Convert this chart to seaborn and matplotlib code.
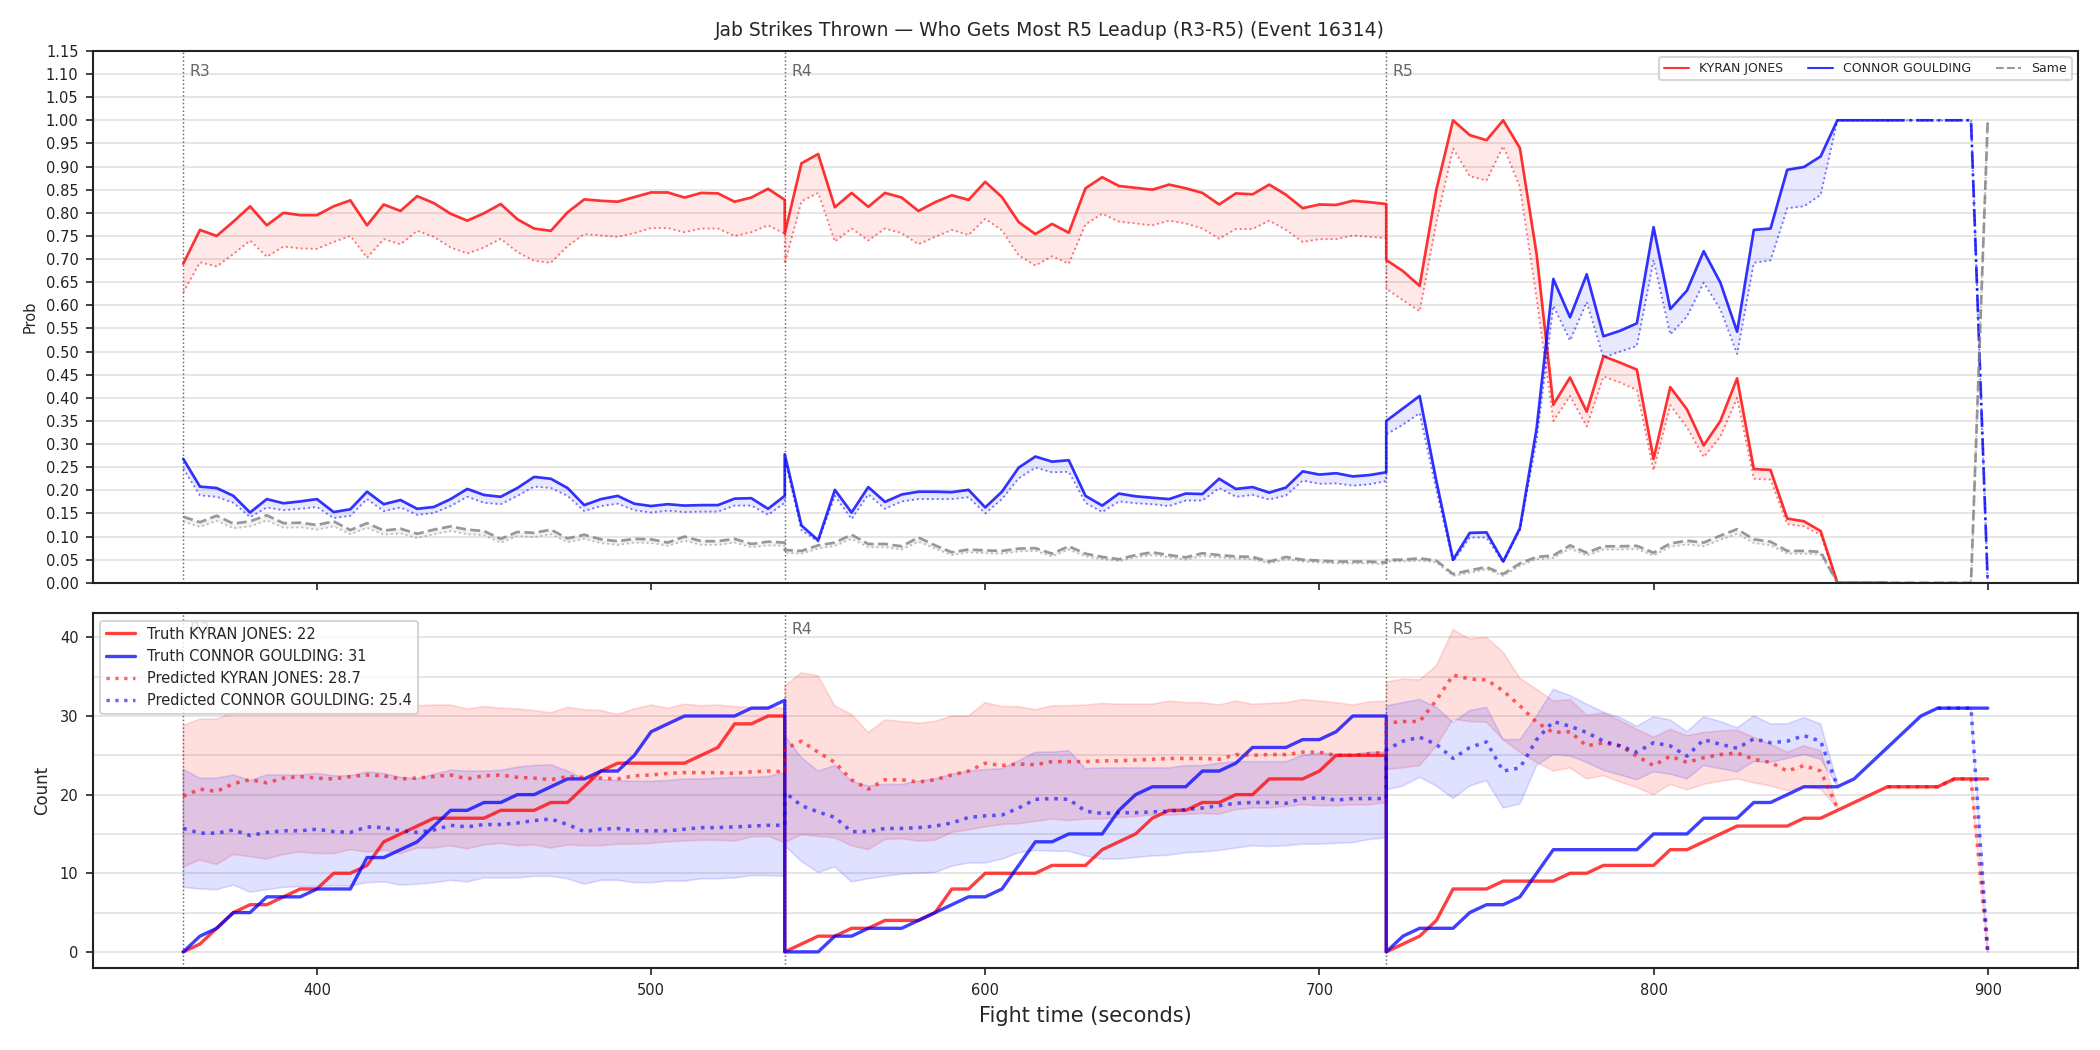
import numpy as np
import pandas as pd
import matplotlib
matplotlib.use("Agg")
import matplotlib.pyplot as plt
import matplotlib.transforms as mtransforms
from matplotlib.lines import Line2D
from matplotlib.ticker import MultipleLocator, FormatStrFormatter
import seaborn as sns

# ---------------- data ----------------
TITLE = "Jab Strikes Thrown \u2014 Who Gets Most R5 Leadup (R3-R5) (Event 16314)"
FIGHTER_A = "KYRAN JONES"
FIGHTER_B = "CONNOR GOULDING"
SAME_LABEL = "Same"
ROUND_LABELS = ["R3", "R4", "R5"]
ROUND_STARTS = [360, 540, 720]
ROUND_LEN = 180
STEP = 5
STYLE_SWITCH_T = 870   # top panel lines change to dash-dot after this time

# Top panel: probability of "who gets most" (solid) and lower line (dotted)
prob_a = [
    0.690, 0.763, 0.750, 0.781, 0.814, 0.773, 0.800, 0.795, 0.795, 0.814, 0.827, 0.773, 0.818, 0.804, 0.836, 0.821, 0.798, 0.783, 0.799,
    0.819, 0.786, 0.766, 0.761, 0.801, 0.829, 0.826, 0.824, 0.834, 0.844, 0.844, 0.833, 0.843, 0.842, 0.824, 0.833, 0.852, 0.828,
    0.755, 0.907, 0.927, 0.812, 0.843, 0.813, 0.843, 0.833, 0.804, 0.823, 0.838, 0.828, 0.867, 0.834, 0.780, 0.754, 0.776, 0.757, 0.853,
    0.877, 0.858, 0.854, 0.850, 0.861, 0.853, 0.843, 0.818, 0.842, 0.840, 0.861, 0.839, 0.810, 0.818, 0.817, 0.826, 0.823, 0.819,
    0.698, 0.674, 0.642, 0.850, 1.000, 0.968, 0.957, 1.000, 0.940, 0.711, 0.385, 0.444, 0.370, 0.490, 0.476, 0.461, 0.268, 0.423, 0.375,
    0.297, 0.350, 0.442, 0.246, 0.244, 0.139, 0.133, 0.112, 0.0, 0.0, 0.0, 0.0, 0.0, 0.0, 0.0, 0.0, 0.0, 0.0,
]
prob_a_lo = [
    0.628, 0.693, 0.684, 0.711, 0.740, 0.705, 0.727, 0.723, 0.722, 0.737, 0.750, 0.703, 0.743, 0.732, 0.761, 0.748, 0.725, 0.712, 0.725,
    0.744, 0.715, 0.696, 0.692, 0.728, 0.754, 0.751, 0.748, 0.756, 0.767, 0.767, 0.758, 0.766, 0.766, 0.750, 0.758, 0.773, 0.755,
    0.690, 0.825, 0.843, 0.738, 0.766, 0.740, 0.766, 0.756, 0.732, 0.748, 0.763, 0.752, 0.787, 0.762, 0.708, 0.686, 0.706, 0.690, 0.775,
    0.798, 0.781, 0.777, 0.773, 0.783, 0.777, 0.766, 0.744, 0.765, 0.765, 0.783, 0.763, 0.737, 0.743, 0.743, 0.751, 0.748, 0.745,
    0.636, 0.611, 0.587, 0.780, 0.939, 0.879, 0.870, 0.944, 0.856, 0.616, 0.350, 0.404, 0.338, 0.446, 0.433, 0.417, 0.243, 0.384, 0.336,
    0.272, 0.316, 0.400, 0.225, 0.223, 0.127, 0.122, 0.104, 0.0, 0.0, 0.0, 0.0, 0.0, 0.0, 0.0, 0.0, 0.0, 0.0,
]
prob_b = [
    0.268, 0.208, 0.205, 0.188, 0.152, 0.181, 0.172, 0.176, 0.181, 0.153, 0.159, 0.197, 0.170, 0.179, 0.160, 0.164, 0.181, 0.203, 0.190,
    0.186, 0.205, 0.229, 0.225, 0.205, 0.168, 0.181, 0.188, 0.171, 0.166, 0.170, 0.167, 0.168, 0.168, 0.182, 0.183, 0.160, 0.188,
    0.278, 0.124, 0.092, 0.201, 0.152, 0.207, 0.175, 0.191, 0.197, 0.197, 0.196, 0.201, 0.163, 0.197, 0.249, 0.273, 0.262, 0.265, 0.188,
    0.167, 0.193, 0.187, 0.184, 0.181, 0.193, 0.192, 0.225, 0.203, 0.207, 0.195, 0.206, 0.241, 0.234, 0.237, 0.230, 0.233, 0.239,
    0.350, 0.377, 0.404, 0.220, 0.050, 0.108, 0.109, 0.046, 0.118, 0.334, 0.657, 0.574, 0.667, 0.533, 0.545, 0.561, 0.769, 0.592, 0.632,
    0.717, 0.649, 0.543, 0.763, 0.766, 0.893, 0.899, 0.922, 1.0, 1.0, 1.0, 1.0, 1.0, 1.0, 1.0, 1.0, 1.0, 0.0,
]
prob_b_lo = [
    0.247, 0.189, 0.186, 0.173, 0.142, 0.163, 0.157, 0.160, 0.164, 0.140, 0.145, 0.181, 0.155, 0.163, 0.147, 0.151, 0.166, 0.186, 0.173,
    0.170, 0.188, 0.208, 0.205, 0.188, 0.155, 0.166, 0.171, 0.157, 0.152, 0.156, 0.153, 0.154, 0.154, 0.167, 0.167, 0.147, 0.173,
    0.268, 0.114, 0.089, 0.188, 0.138, 0.191, 0.160, 0.176, 0.181, 0.181, 0.181, 0.185, 0.150, 0.181, 0.226, 0.249, 0.239, 0.240, 0.173,
    0.153, 0.176, 0.172, 0.170, 0.166, 0.178, 0.178, 0.205, 0.186, 0.190, 0.180, 0.189, 0.221, 0.214, 0.215, 0.210, 0.213, 0.220,
    0.321, 0.342, 0.367, 0.200, 0.046, 0.098, 0.098, 0.044, 0.114, 0.309, 0.599, 0.524, 0.607, 0.487, 0.500, 0.512, 0.698, 0.537, 0.576,
    0.649, 0.591, 0.495, 0.692, 0.697, 0.810, 0.814, 0.839, 1.0, 1.0, 1.0, 1.0, 1.0, 1.0, 1.0, 1.0, 1.0, 0.0,
]
prob_same = [
    0.143, 0.131, 0.145, 0.128, 0.133, 0.146, 0.129, 0.130, 0.125, 0.133, 0.114, 0.129, 0.113, 0.117, 0.106, 0.115, 0.122, 0.115, 0.112,
    0.095, 0.110, 0.108, 0.115, 0.096, 0.104, 0.094, 0.090, 0.095, 0.094, 0.087, 0.100, 0.090, 0.090, 0.095, 0.084, 0.089, 0.087,
    0.071, 0.069, 0.081, 0.087, 0.104, 0.084, 0.084, 0.079, 0.098, 0.081, 0.066, 0.072, 0.070, 0.069, 0.074, 0.075, 0.063, 0.079, 0.063,
    0.056, 0.051, 0.060, 0.066, 0.060, 0.055, 0.064, 0.060, 0.057, 0.056, 0.046, 0.056, 0.050, 0.048, 0.046, 0.046, 0.046, 0.044,
    0.050, 0.050, 0.053, 0.048, 0.019, 0.027, 0.034, 0.019, 0.042, 0.056, 0.059, 0.081, 0.065, 0.079, 0.079, 0.080, 0.065, 0.085, 0.091,
    0.087, 0.102, 0.116, 0.094, 0.089, 0.069, 0.069, 0.067, 0.0, 0.0, 0.0, 0.0, 0.0, 0.0, 0.0, 0.0, 0.0, 1.0,
]
prob_same_lo = [
    0.132, 0.121, 0.134, 0.118, 0.122, 0.135, 0.119, 0.120, 0.115, 0.122, 0.105, 0.119, 0.104, 0.107, 0.097, 0.105, 0.112, 0.105, 0.103,
    0.087, 0.101, 0.099, 0.105, 0.088, 0.095, 0.086, 0.082, 0.087, 0.086, 0.080, 0.091, 0.082, 0.082, 0.087, 0.077, 0.081, 0.080,
    0.065, 0.063, 0.074, 0.080, 0.095, 0.077, 0.077, 0.072, 0.089, 0.074, 0.060, 0.066, 0.064, 0.063, 0.068, 0.069, 0.057, 0.072, 0.057,
    0.051, 0.047, 0.055, 0.060, 0.055, 0.050, 0.058, 0.055, 0.052, 0.051, 0.042, 0.051, 0.046, 0.044, 0.042, 0.042, 0.042, 0.040,
    0.046, 0.046, 0.048, 0.044, 0.015, 0.022, 0.029, 0.015, 0.037, 0.051, 0.054, 0.074, 0.059, 0.072, 0.072, 0.073, 0.059, 0.078, 0.083,
    0.079, 0.093, 0.106, 0.086, 0.081, 0.063, 0.063, 0.061, 0.0, 0.0, 0.0, 0.0, 0.0, 0.0, 0.0, 0.0, 0.0, 1.0,
]

# Bottom panel: cumulative counts (truth) and predictions with bands
truth_a = [
    0, 1, 3, 5, 6, 6, 7, 8, 8, 10, 10, 11, 14, 15, 16, 17, 17, 17, 17, 18, 18, 18, 19, 19, 21, 23, 24, 24, 24, 24, 24, 25, 26, 29, 29, 30, 30,
    0, 1, 2, 2, 3, 3, 4, 4, 4, 5, 8, 8, 10, 10, 10, 10, 11, 11, 11, 13, 14, 15, 17, 18, 18, 19, 19, 20, 20, 22, 22, 22, 23, 25, 25, 25, 25,
    0, 1, 2, 4, 8, 8, 8, 9, 9, 9, 9, 10, 10, 11, 11, 11, 11, 13, 13, 14, 15, 16, 16, 16, 16, 17, 17, 18, 19, 20, 21, 21, 21, 21, 22, 22, 22,
]
truth_b = [
    0, 2, 3, 5, 5, 7, 7, 7, 8, 8, 8, 12, 12, 13, 14, 16, 18, 18, 19, 19, 20, 20, 21, 22, 22, 23, 23, 25, 28, 29, 30, 30, 30, 30, 31, 31, 32,
    0, 0, 0, 2, 2, 3, 3, 3, 4, 5, 6, 7, 7, 8, 11, 14, 14, 15, 15, 15, 18, 20, 21, 21, 21, 23, 23, 24, 26, 26, 26, 27, 27, 28, 30, 30, 30,
    0, 2, 3, 3, 3, 5, 6, 6, 7, 10, 13, 13, 13, 13, 13, 13, 15, 15, 15, 17, 17, 17, 19, 19, 20, 21, 21, 21, 22, 24, 26, 28, 30, 31, 31, 31, 31,
]
nan = float("nan")
pred_a = [
    19.8, 20.7, 20.4, 21.4, 21.9, 21.5, 22.1, 22.3, 22.1, 22.0, 22.3, 22.5, 22.4, 22.0, 22.1, 22.3, 22.5, 22.0, 22.4, 22.5, 22.2, 22.1,
    21.9, 22.3, 22.2, 22.1, 22.0, 22.4, 22.5, 22.7, 22.8, 22.8, 22.8, 22.7, 22.9, 23.0, 22.9,
    25.8, 26.8, 25.4, 24.1, 21.9, 20.7, 21.9, 21.9, 21.6, 21.9, 22.5, 23.0, 24.0, 23.7, 23.9, 23.8, 24.2, 24.2, 24.2, 24.3, 24.3, 24.4,
    24.5, 24.6, 24.6, 24.6, 24.5, 25.1, 25.0, 25.1, 25.1, 25.4, 25.4, 25.0, 25.0, 25.2, 25.4,
    29.1, 29.3, 29.3, 32.0, 35.2, 34.7, 34.6, 33.2, 31.3, 29.2, 27.9, 28.0, 26.2, 26.6, 26.2, 24.9, 23.7, 24.9, 24.1, 24.7, 25.1, 25.3,
    24.5, 24.1, 23.0, 23.7, 23.0, 18.3, nan, nan, 21, 21, 21, 21, 22, 22, 0,
]
pred_a_hi = [
    28.8, 29.6, 29.6, 30.4, 30.9, 31.1, 31.2, 31.2, 31.1, 31.2, 31.2, 31.4, 31.2, 31.2, 31.3, 31.4, 31.4, 30.9, 31.2, 31.0, 30.9, 30.7,
    30.4, 31.1, 30.8, 30.7, 30.2, 30.9, 31.4, 31.0, 31.5, 31.3, 31.4, 31.2, 31.1, 31.2, 30.9,
    33.8, 35.5, 35.1, 31.3, 30.2, 27.9, 29.5, 29.3, 29.1, 29.3, 30.0, 30.0, 31.7, 31.2, 31.2, 30.8, 31.3, 31.3, 31.4, 31.6, 31.5, 31.5,
    31.5, 31.9, 31.7, 31.7, 31.4, 31.9, 31.5, 31.6, 31.7, 32.1, 31.9, 31.7, 31.4, 31.8, 31.9,
    34.3, 34.7, 34.6, 36.4, 41.0, 39.8, 40.0, 38.1, 34.8, 33.4, 31.9, 32.1, 30.1, 30.4, 29.4, 28.3, 27.3, 28.3, 27.5, 27.9, 28.1, 28.2,
    27.3, 26.4, 25.4, 26.2, 25.6, 18.6, nan, nan, 21, 21, 21, 21, 22, 22, 0,
]
pred_a_lo = [
    10.8, 11.7, 11.1, 12.4, 12.1, 11.8, 12.4, 12.7, 12.5, 12.5, 13.0, 12.7, 12.9, 12.5, 13.2, 13.2, 13.5, 13.1, 13.6, 13.8, 13.5, 13.6,
    13.2, 13.6, 13.5, 13.5, 13.7, 13.7, 13.8, 14.0, 14.1, 14.2, 14.2, 14.1, 14.6, 14.7, 13.9,
    13.9, 14.9, 14.7, 14.5, 13.5, 13.0, 14.3, 14.4, 14.1, 14.2, 15.2, 15.5, 15.9, 16.2, 16.3, 16.6, 16.9, 16.7, 16.9, 16.9, 17.1, 17.2,
    17.4, 17.4, 17.5, 17.6, 17.5, 18.1, 18.3, 18.3, 18.5, 18.7, 18.6, 18.6, 18.7, 18.7, 19.0,
    23.2, 23.4, 23.7, 26.2, 29.6, 29.3, 29.2, 27.0, 25.4, 24.1, 23.0, 23.4, 22.0, 22.4, 21.6, 20.9, 20.0, 21.3, 20.6, 21.3, 21.7, 22.0,
    21.5, 21.1, 20.5, 21.0, 20.7, 18.3, nan, nan, 21, 21, 21, 21, 22, 22, 0,
]
pred_b = [
    15.7, 15.1, 15.1, 15.5, 14.8, 15.2, 15.4, 15.4, 15.6, 15.3, 15.2, 15.9, 15.8, 15.4, 15.2, 15.5, 16.1, 15.9, 16.2, 16.2, 16.4, 16.7,
    16.9, 16.2, 15.3, 15.6, 15.7, 15.4, 15.4, 15.4, 15.6, 15.8, 15.8, 15.9, 16.0, 16.1, 16.1,
    20.3, 18.6, 17.8, 17.1, 15.3, 15.3, 15.7, 15.7, 15.8, 16.0, 16.4, 17.1, 17.3, 17.4, 18.3, 19.4, 19.5, 19.4, 17.9, 17.6, 17.7, 17.7,
    17.8, 17.9, 18.1, 18.3, 18.6, 18.9, 19.0, 19.0, 18.9, 19.5, 19.6, 19.3, 19.5, 19.5, 19.5,
    25.7, 26.8, 27.3, 26.4, 24.6, 26.0, 26.7, 23.0, 23.4, 27.0, 29.3, 28.7, 27.9, 26.8, 26.2, 25.4, 26.6, 26.2, 24.9, 27.0, 26.4, 25.9,
    27.1, 26.6, 26.8, 27.5, 26.8, 21.1, nan, nan, nan, nan, nan, 31, 31, 31, 0,
]
pred_b_hi = [
    23.2, 22.1, 22.1, 22.5, 21.8, 22.5, 22.5, 22.5, 22.7, 22.4, 22.4, 22.9, 22.7, 22.2, 22.0, 22.6, 23.1, 23.0, 23.0, 23.1, 23.5, 23.7,
    23.8, 23.0, 22.0, 21.9, 21.8, 21.7, 21.7, 21.8, 22.0, 22.0, 22.1, 22.2, 22.2, 22.3, 22.8,
    27.5, 24.7, 23.0, 23.7, 21.7, 21.1, 21.3, 21.3, 21.7, 22.0, 22.6, 23.0, 23.2, 23.3, 24.3, 25.4, 25.4, 25.6, 23.3, 23.4, 23.4, 23.4,
    23.4, 23.4, 23.7, 23.7, 24.0, 24.2, 24.2, 24.2, 24.2, 25.0, 25.3, 25.1, 25.1, 25.4, 25.4,
    31.3, 31.7, 32.1, 31.1, 29.2, 30.7, 31.1, 27.0, 27.0, 30.0, 33.4, 32.6, 31.5, 30.5, 29.8, 28.7, 29.9, 29.5, 28.0, 29.9, 29.3, 28.5,
    30.0, 29.0, 29.0, 29.8, 29.0, 21.5, nan, nan, nan, nan, nan, 31, 31, 31, 0,
]
pred_b_lo = [
    8.2, 8.0, 7.9, 8.5, 7.6, 7.9, 8.2, 8.3, 8.3, 8.4, 8.4, 8.8, 8.9, 8.5, 8.6, 8.8, 9.1, 8.9, 9.4, 9.4, 9.4, 9.6,
    9.6, 9.3, 8.6, 9.1, 9.1, 8.8, 8.8, 9.0, 9.0, 9.3, 9.3, 9.4, 9.7, 9.7, 9.6,
    13.5, 11.5, 10.1, 10.8, 8.9, 9.3, 9.6, 9.9, 10.0, 10.1, 10.9, 11.3, 11.3, 11.8, 12.6, 12.9, 12.8, 12.8, 12.2, 11.8, 11.8, 12.0,
    12.2, 12.3, 12.6, 12.7, 12.9, 13.2, 13.5, 13.4, 13.5, 13.7, 13.7, 13.8, 13.9, 14.3, 14.5,
    20.6, 21.1, 22.2, 21.1, 19.5, 21.1, 21.8, 18.3, 18.8, 23.7, 25.1, 24.9, 24.1, 23.1, 22.5, 21.9, 22.9, 22.6, 22.0, 23.7, 23.3, 22.9,
    24.2, 24.1, 24.6, 25.1, 24.5, 21.1, nan, nan, nan, nan, nan, 31, 31, 31, 0,
]
final_truth = {FIGHTER_A: 22, FIGHTER_B: 31}
final_pred = {FIGHTER_A: 28.7, FIGHTER_B: 25.4}

# ---------------- build frame ----------------
times = np.concatenate([np.arange(s, s + ROUND_LEN + STEP, STEP) for s in ROUND_STARTS]).astype(float)
series = {
    "prob_a": prob_a, "prob_a_lo": prob_a_lo,
    "prob_b": prob_b, "prob_b_lo": prob_b_lo,
    "same": prob_same, "same_lo": prob_same_lo,
    "truth_a": truth_a, "truth_b": truth_b,
    "pred_a": pred_a, "pred_a_hi": pred_a_hi, "pred_a_lo": pred_a_lo,
    "pred_b": pred_b, "pred_b_hi": pred_b_hi, "pred_b_lo": pred_b_lo,
}
bad = {k: len(v) for k, v in series.items() if len(v) != len(times)}
if bad:
    raise ValueError(f"length mismatch (expected {len(times)}): {bad}")
df = pd.DataFrame({"t": times, **series})

# ---------------- style ----------------
sns.set_theme(style="ticks", rc={
    "axes.linewidth": 1.0,
    "axes.edgecolor": "#222222",
    "xtick.major.size": 3.5, "ytick.major.size": 3.5,
    "xtick.major.width": 0.8, "ytick.major.width": 0.8,
    "xtick.labelsize": 7, "ytick.labelsize": 7,
    "xtick.color": "#222222", "ytick.color": "#222222",
})
plt.rcParams["font.family"] = ["DejaVu Sans"]

RED = "#ff0000"
BLUE = "#0000ff"
GREY = "#808080"

fig = plt.figure(figsize=(14, 7), dpi=150)
gs = fig.add_gridspec(2, 1, height_ratios=[1.5, 1.0], hspace=0.069,
                      left=0.0443, right=0.9895, top=0.9515, bottom=0.0781)
ax1 = fig.add_subplot(gs[0])
ax2 = fig.add_subplot(gs[1], sharex=ax1)

t = df["t"].to_numpy()
cut = int(np.where(t == STYLE_SWITCH_T)[0][-1])

# ---------- top panel ----------
for col, lo, color in [("prob_a", "prob_a_lo", RED), ("prob_b", "prob_b_lo", BLUE)]:
    ax1.fill_between(t, df[lo], df[col], color=color, alpha=0.09, linewidth=0)
    ax1.plot(t, df[lo], color=color, ls=":", lw=0.9, alpha=0.55)
    seg = df.iloc[:cut + 1]
    sns.lineplot(x=seg["t"].to_numpy(), y=seg[col].to_numpy(), ax=ax1, color=color,
                 lw=1.3, alpha=0.8, estimator=None, sort=False)
    ax1.plot(t[cut:], df[col].to_numpy()[cut:], color=color, ls="-.", lw=1.3, alpha=0.8)

ax1.fill_between(t, df["same_lo"], df["same"], color=GREY, alpha=0.1, linewidth=0)
ax1.plot(t, df["same_lo"], color=GREY, ls=":", lw=0.9, alpha=0.5)
ax1.plot(t, df["same"], color=GREY, ls="--", lw=1.3, alpha=0.8)

ax1.set_ylim(0, 1.15)
ax1.yaxis.set_major_locator(MultipleLocator(0.05))
ax1.yaxis.set_major_formatter(FormatStrFormatter("%.2f"))
ax1.set_ylabel("Prob", fontsize=7)
ax1.grid(axis="y", color="#e2e2e2", lw=0.8)
ax1.set_axisbelow(True)
plt.setp(ax1.get_xticklabels(), visible=False)
ax1.set_xlabel("")

top_handles = [
    Line2D([], [], color=RED, lw=1.0, alpha=0.8),
    Line2D([], [], color=BLUE, lw=1.0, alpha=0.8),
    Line2D([], [], color=GREY, lw=1.0, ls="--", alpha=0.8),
]
ax1.legend(top_handles, [FIGHTER_A, FIGHTER_B, SAME_LABEL], loc="upper right", ncol=3,
           fontsize=6, frameon=True, framealpha=0.8, borderaxespad=0.5)

# ---------- bottom panel ----------
ax2.fill_between(t, df["pred_a_lo"], df["pred_a_hi"], color=RED, alpha=0.13, lw=0.8)
ax2.fill_between(t, df["pred_b_lo"], df["pred_b_hi"], color=BLUE, alpha=0.12, lw=0.8)
sns.lineplot(x=t, y=df["truth_a"].to_numpy(), ax=ax2, color=RED, lw=1.6, alpha=0.75,
             estimator=None, sort=False)
sns.lineplot(x=t, y=df["truth_b"].to_numpy(), ax=ax2, color=BLUE, lw=1.6, alpha=0.75,
             estimator=None, sort=False)
ax2.plot(t, df["pred_a"], color=RED, ls=":", lw=1.7, alpha=0.6)
ax2.plot(t, df["pred_b"], color=BLUE, ls=":", lw=1.7, alpha=0.6)

ax2.yaxis.set_major_locator(MultipleLocator(10))
ax2.yaxis.set_minor_locator(MultipleLocator(5))
ax2.tick_params(axis="y", which="minor", length=0)
ax2.grid(axis="y", which="both", color="#e2e2e2", lw=0.8)
ax2.set_axisbelow(True)
ax2.set_ylabel("Count", fontsize=8)
ax2.set_xlabel("Fight time (seconds)", fontsize=10)

bottom_handles = [
    Line2D([], [], color=RED, lw=1.6, alpha=0.75),
    Line2D([], [], color=BLUE, lw=1.6, alpha=0.75),
    Line2D([], [], color=RED, lw=1.6, ls=":", alpha=0.6),
    Line2D([], [], color=BLUE, lw=1.6, ls=":", alpha=0.6),
]
bottom_labels = [
    f"Truth {FIGHTER_A}: {final_truth[FIGHTER_A]}",
    f"Truth {FIGHTER_B}: {final_truth[FIGHTER_B]}",
    f"Predicted {FIGHTER_A}: {final_pred[FIGHTER_A]}",
    f"Predicted {FIGHTER_B}: {final_pred[FIGHTER_B]}",
]
leg2 = ax2.legend(bottom_handles, bottom_labels, loc="upper left", fontsize=7, frameon=True,
                  framealpha=0.8)
leg2.set_zorder(5)

# round markers
for ax in (ax1, ax2):
    trans = mtransforms.blended_transform_factory(ax.transData, ax.transAxes)
    for lab, s in zip(ROUND_LABELS, ROUND_STARTS):
        ax.axvline(s, color="#555555", ls=":", lw=0.7, alpha=0.9, zorder=1)
        ax.text(s + 2, 0.975, lab, transform=trans, ha="left", va="top",
                fontsize=7.5, color="#666666", zorder=1)

fig.suptitle(TITLE, fontsize=9, y=0.98)
fig.savefig("out.png", dpi=150)
